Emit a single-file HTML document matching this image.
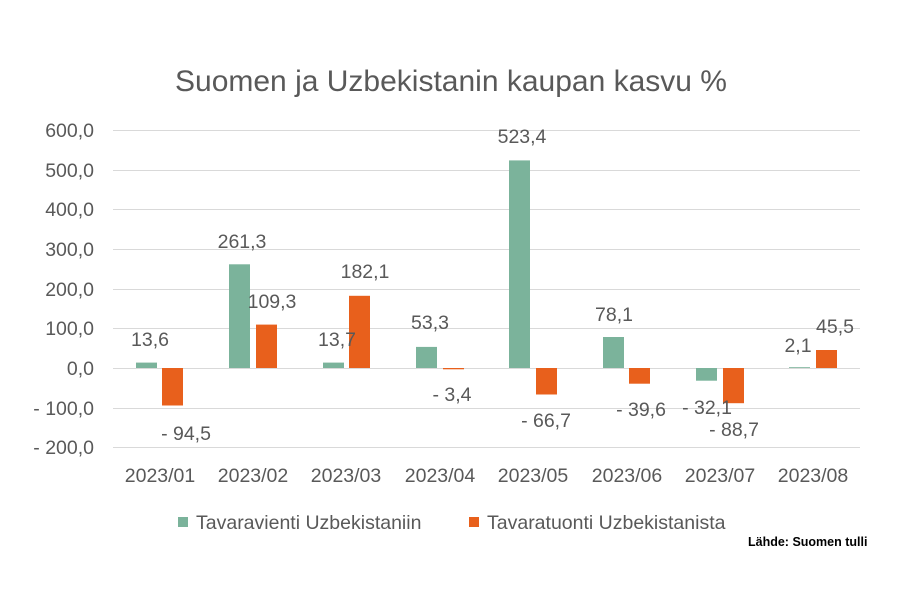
<!DOCTYPE html>
<html><head><meta charset="utf-8"><style>
html,body{margin:0;padding:0;background:#fff}
svg{display:block}
text{font-family:"Liberation Sans",Arial,sans-serif;fill:#595959}
</style></head><body>
<svg width="900" height="600" viewBox="0 0 900 600" xmlns="http://www.w3.org/2000/svg">
<rect width="900" height="600" fill="#fff"/>
<text x="451" y="91" font-size="30" text-anchor="middle">Suomen ja Uzbekistanin kaupan kasvu %</text>
<g stroke="#d9d9d9" stroke-width="1">
<line x1="113" y1="130.5" x2="860" y2="130.5"/>
<line x1="113" y1="170.5" x2="860" y2="170.5"/>
<line x1="113" y1="209.5" x2="860" y2="209.5"/>
<line x1="113" y1="249.5" x2="860" y2="249.5"/>
<line x1="113" y1="289.5" x2="860" y2="289.5"/>
<line x1="113" y1="328.5" x2="860" y2="328.5"/>
<line x1="113" y1="368.5" x2="860" y2="368.5"/>
<line x1="113" y1="408.5" x2="860" y2="408.5"/>
<line x1="113" y1="447.5" x2="860" y2="447.5"/>
</g>
<g font-size="19.5" text-anchor="end">
<text x="94" y="137">600,0</text>
<text x="94" y="177">500,0</text>
<text x="94" y="216">400,0</text>
<text x="94" y="256">300,0</text>
<text x="94" y="296">200,0</text>
<text x="94" y="335">100,0</text>
<text x="94" y="375">0,0</text>
<text x="94" y="415">- 100,0</text>
<text x="94" y="454">- 200,0</text>
</g>
<g fill="#7bb39b">
<rect x="136" y="362.6" width="21" height="5.4"/>
<rect x="229" y="264.3" width="21" height="103.7"/>
<rect x="323" y="362.6" width="21" height="5.4"/>
<rect x="416" y="346.9" width="21" height="21.1"/>
<rect x="509" y="160.4" width="21" height="207.6"/>
<rect x="603" y="337" width="21" height="31"/>
<rect x="696" y="368" width="21" height="12.7"/>
<rect x="789" y="367.2" width="21" height="0.8"/>
</g>
<g fill="#e8601c">
<rect x="162" y="368" width="21" height="37.5"/>
<rect x="256" y="324.6" width="21" height="43.4"/>
<rect x="349" y="295.8" width="21" height="72.2"/>
<rect x="443" y="368" width="21" height="1.3"/>
<rect x="536" y="368" width="21" height="26.5"/>
<rect x="629" y="368" width="21" height="15.7"/>
<rect x="723" y="368" width="21" height="35.2"/>
<rect x="816" y="350" width="21" height="18"/>
</g>
<g font-size="19.5" text-anchor="middle">
<text x="150" y="346">13,6</text>
<text x="186" y="440">- 94,5</text>
<text x="242" y="248">261,3</text>
<text x="272" y="308">109,3</text>
<text x="337" y="346">13,7</text>
<text x="365" y="278">182,1</text>
<text x="430" y="329">53,3</text>
<text x="452" y="401">- 3,4</text>
<text x="522" y="143">523,4</text>
<text x="546" y="427">- 66,7</text>
<text x="614" y="321">78,1</text>
<text x="641" y="416">- 39,6</text>
<text x="707" y="414">- 32,1</text>
<text x="734" y="436">- 88,7</text>
<text x="798" y="352">2,1</text>
<text x="835" y="333">45,5</text>
</g>
<g font-size="19.5" text-anchor="middle">
<text x="160" y="482">2023/01</text>
<text x="253" y="482">2023/02</text>
<text x="346" y="482">2023/03</text>
<text x="440" y="482">2023/04</text>
<text x="533" y="482">2023/05</text>
<text x="627" y="482">2023/06</text>
<text x="720" y="482">2023/07</text>
<text x="813" y="482">2023/08</text>
</g>
<rect x="178" y="517" width="10" height="10" fill="#7bb39b"/>
<text x="196" y="529" font-size="19.5">Tavaravienti Uzbekistaniin</text>
<rect x="469" y="517" width="10" height="10" fill="#e8601c"/>
<text x="487" y="529" font-size="19.5">Tavaratuonti Uzbekistanista</text>
<text x="748" y="546" font-size="12.5" font-weight="bold" style="fill:#000">Lähde: Suomen tulli</text>
</svg>
</body></html>
